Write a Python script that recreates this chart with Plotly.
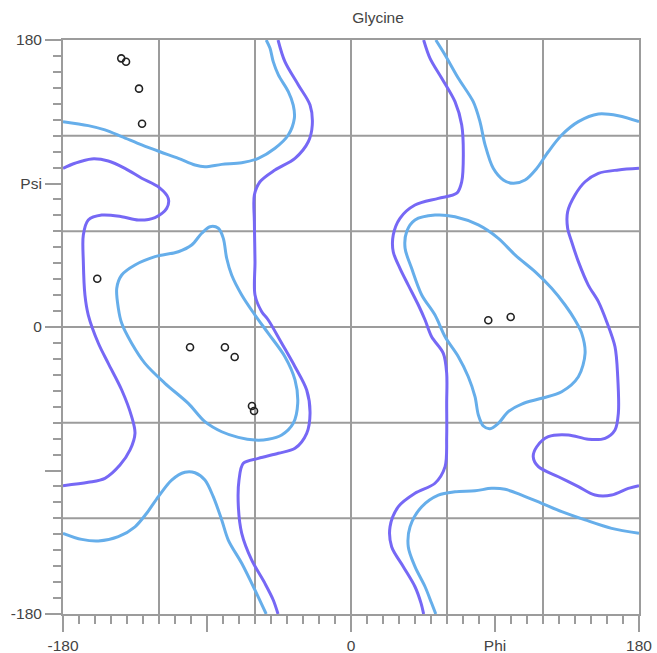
import plotly.graph_objects as go

TITLE = "Glycine"
X_TICK_VALUES = [-180, -90, 0, 90, 180]
X_TICK_LABELS = ["-180", "", "0", "Phi", "180"]
Y_TICK_VALUES = [-180, -90, 0, 90, 180]
Y_TICK_LABELS = ["-180", "", "0", "Psi", "180"]
GRID_VALUES = [-120, -60, 0, 60, 120]

# observed residues
RES_PHI = [-143.6, -140.6, -132.5, -130.6, -158.6, -100.6, -78.8, -72.7, -61.9, -60.6, 85.8, 99.8]
RES_PSI = [168.5, 166.4, 149.5, 127.5, 30.3, -12.7, -12.7, -18.8, -49.5, -52.7, 4.2, 6.3]

# outer (light blue) contour segments
LIGHT_1_PHI = [-180, -164.2, -153.8, -143.3, -130.8, -119.4, -107.9, -97.5, -91.3, -80.8, -68.3, -57.9, -47.5, -39.2, -35.4, -36.1, -39.2, -45.4, -48.6, -50.6, -53]
LIGHT_1_PSI = [128.8, 126.3, 123.6, 119.4, 114.2, 109.9, 105.8, 101.6, 100.5, 102, 103, 105.8, 112.1, 120.4, 130.9, 139.2, 147.6, 158.1, 166.4, 174.8, 180]

LIGHT_2_PHI = [-180, -168.3, -157.9, -145.4, -135, -127.7, -120.4, -112.1, -103.8, -97.5, -91.3, -86.1, -80.8, -76.7, -68.3, -60, -53]
LIGHT_2_PSI = [-129.4, -133.2, -134.2, -131.5, -125.3, -116.8, -106.4, -96, -91.1, -91.4, -96, -106.4, -121, -133.6, -148.2, -165, -180]

LIGHT_3_PHI = [53, 58.8, 67.1, 76.4, 80.6, 83.8, 88.9, 95.2, 101.4, 108.8, 116.1, 123.3, 131.7, 142.1, 154.6, 167.1, 180]
LIGHT_3_PSI = [180, 170.6, 156, 141.3, 128.8, 114.2, 99.5, 92.2, 90.1, 92.2, 99.5, 109.9, 120.4, 128.8, 133.6, 132.5, 128.8]

LIGHT_4_PHI = [180, 162.9, 146.3, 131.7, 119.2, 106.7, 96.3, 87.9, 77.5, 65, 54.6, 44.2, 36.9, 35.8, 40, 46.3, 50.4, 53]
LIGHT_4_PSI = [-129.4, -126.3, -121, -115.8, -110.6, -105.4, -101.8, -101.2, -102.7, -103.3, -105.4, -112.7, -125.3, -137.8, -150.3, -162.9, -173.3, -180]

LIGHT_5_PHI = [-146.4, -143.3, -135, -122.5, -107.9, -99.6, -93.3, -88.1, -82.9, -79.8, -77.7, -74.6, -68.3, -60, -51.7, -41.3, -35, -33.3, -36.1, -43.3, -51.7, -60, -70.4, -80.8, -91.3, -101.7, -116.3, -128.8, -137.1, -143.3, -145.4, -146.4]
LIGHT_5_PSI = [24.3, 32.6, 38.9, 44.1, 47.2, 51.4, 58.8, 62.9, 61.9, 55.6, 43.1, 32.6, 20.1, 7.5, -4, -18.6, -33.2, -47.9, -60.4, -67.7, -70.4, -70.9, -69.2, -65.7, -59.4, -47.9, -35.3, -22.8, -10.2, 2.3, 11.7, 24.3]

LIGHT_6_PHI = [33.8, 34.8, 40, 52.5, 65, 79.6, 92.1, 102.5, 115, 125.4, 133.8, 140, 144.2, 146.3, 142.1, 131.7, 119.2, 106.7, 98.3, 92.1, 86.9, 82.7, 79.6, 77.5, 73.3, 67.1, 58.8, 52.5, 44.2, 37.9, 33.8]
LIGHT_6_PSI = [49.4, 59.8, 67.1, 70.2, 69.2, 64, 55.6, 45.2, 34.7, 24.3, 13.8, 4.4, -4, -16.5, -31.2, -40.6, -44.7, -48.3, -53.1, -60.4, -63.8, -62.1, -55.2, -43.7, -31.2, -18.6, -6.1, 7.5, 20.1, 36.8, 49.4]

# inner (purple) contour segments
PURPLE_1_PHI = [-180, -172.5, -162.1, -151.7, -141.3, -130.8, -119.8, -114.2, -115.2, -122.5, -132.9, -143.3, -155.8, -164.2, -167.3, -167.3, -166.3, -164.2, -157.9, -151.7, -143.3, -137.1, -135, -138.1, -144.4, -153.8, -164.2, -180]
PURPLE_1_PSI = [99.5, 102.7, 105.4, 104.1, 99.5, 93.3, 87.4, 80.7, 74.4, 68.6, 67.1, 69.2, 70.2, 67.1, 57.7, 41, 20.1, 7.5, -10.2, -22.8, -39.5, -56.2, -66.7, -77.1, -86.6, -94.9, -97.4, -99.5]

PURPLE_2_PHI = [-45.6, -41.3, -32.9, -25.6, -24.2, -26.7, -35, -47.5, -56.9, -60.4, -60.4, -60, -60, -55.8, -51.7, -43.3, -35, -27.7, -25.6, -27.7, -35, -45.4, -57.9, -67.3, -70, -70.4, -68.3, -62.1, -53.8, -48.6, -45.6]
PURPLE_2_PSI = [180, 166.4, 151.8, 139.2, 126.7, 116.2, 105.8, 98.5, 91.1, 82.8, 66, 41, 20.1, 9.6, 4.4, -10.2, -24.9, -39.5, -54.1, -66.7, -76.1, -79.2, -82.4, -85.5, -96, -112.7, -129.4, -146.1, -160.8, -171.2, -180]

PURPLE_3_PHI = [45.4, 49.4, 56.7, 65, 69.2, 70.2, 69.2, 66.1, 54.6, 40, 30.6, 26.4, 26.4, 30.6, 35.8, 42.1, 46.3, 50.4, 57.7, 59.8, 59.8, 59.8, 58.8, 52.5, 40, 29.6, 24.4, 25.4, 32.7, 40, 43.8, 45.4]
PURPLE_3_PSI = [180, 168.5, 156, 141.3, 126.7, 107.9, 91.1, 83.9, 80.7, 76.5, 68.2, 57.7, 47.2, 36.8, 26.3, 13.8, 4.4, -6.1, -16.5, -29, -47.9, -68.8, -87.6, -98, -104.3, -112.7, -125.3, -137.8, -150.3, -162.9, -173.3, -180]

PURPLE_4_PHI = [180, 167.1, 154.6, 146.3, 140, 135.4, 135.4, 137.9, 142.1, 148.3, 154.6, 159.8, 165, 166.7, 167.1, 165, 158.8, 148.3, 135.8, 123.3, 116.1, 113.9, 117.1, 129.6, 142.1, 152.5, 162.9, 173.3, 180]
PURPLE_4_PSI = [99.5, 98.5, 96.4, 91.1, 82.8, 72.3, 61.9, 53.5, 41, 26.3, 15.9, 3.3, -12.4, -31.2, -54.1, -64.6, -69.8, -70.4, -67.7, -68.8, -75.1, -81.4, -87.6, -93.9, -100.1, -105.4, -105.4, -101.2, -99.5]

LIGHT_COLOR = "#66aeea"
PURPLE_COLOR = "#7668f5"
AXIS_COLOR = "#9c9c9c"
FONT_FAMILY = "Liberation Sans, Arial, sans-serif"

fig = go.Figure()

light_segments = [
    (LIGHT_1_PHI, LIGHT_1_PSI), (LIGHT_2_PHI, LIGHT_2_PSI), (LIGHT_3_PHI, LIGHT_3_PSI),
    (LIGHT_4_PHI, LIGHT_4_PSI), (LIGHT_5_PHI, LIGHT_5_PSI), (LIGHT_6_PHI, LIGHT_6_PSI),
]
purple_segments = [
    (PURPLE_1_PHI, PURPLE_1_PSI), (PURPLE_2_PHI, PURPLE_2_PSI),
    (PURPLE_3_PHI, PURPLE_3_PSI), (PURPLE_4_PHI, PURPLE_4_PSI),
]

for px, py in light_segments:
    fig.add_trace(go.Scatter(x=px, y=py, mode="lines",
                             line=dict(color=LIGHT_COLOR, width=3, shape="spline", smoothing=0.9),
                             hoverinfo="skip", showlegend=False))
for px, py in purple_segments:
    fig.add_trace(go.Scatter(x=px, y=py, mode="lines",
                             line=dict(color=PURPLE_COLOR, width=3, shape="spline", smoothing=0.9),
                             hoverinfo="skip", showlegend=False))

fig.add_trace(go.Scatter(x=RES_PHI, y=RES_PSI, mode="markers",
                         marker=dict(symbol="circle-open", size=7, color="#222",
                                     line=dict(width=1.6, color="#222")),
                         showlegend=False))

for g in GRID_VALUES:
    fig.add_shape(type="line", xref="x", yref="paper", x0=g, x1=g, y0=0, y1=1,
                  line=dict(color=AXIS_COLOR, width=2), layer="below")
    fig.add_shape(type="line", xref="paper", yref="y", x0=0, x1=1, y0=g, y1=g,
                  line=dict(color=AXIS_COLOR, width=2), layer="below")

axis_common = dict(
    range=[-180, 180], tickmode="array", ticks="outside", ticklen=16, tickwidth=1.5,
    tickcolor=AXIS_COLOR, showline=True, linecolor=AXIS_COLOR, linewidth=2, mirror=True,
    showgrid=False, zeroline=False, fixedrange=True, automargin=False,
    tickfont=dict(family=FONT_FAMILY, size=15.5, color="#444"),
    minor=dict(tickmode="linear", tick0=0, dtick=10, ticks="outside", ticklen=8,
               tickwidth=1.5, tickcolor=AXIS_COLOR, showgrid=False),
)

fig.update_layout(
    width=657, height=653,
    margin=dict(l=63, r=18, t=40, b=39),
    plot_bgcolor="white", paper_bgcolor="white",
    showlegend=False,
    font=dict(family=FONT_FAMILY, size=15, color="#444"),
    title=dict(text=TITLE, x=(378 - 63) / 576, xref="paper", xanchor="center",
               y=1 - 18 / 653, yref="container", yanchor="middle",
               font=dict(family=FONT_FAMILY, size=15.5, color="#444"),
               automargin=False),
    xaxis=dict(tickvals=X_TICK_VALUES, ticktext=X_TICK_LABELS, **axis_common),
    yaxis=dict(tickvals=Y_TICK_VALUES, ticktext=Y_TICK_LABELS, **axis_common),
)

fig.write_html("out.html",
               config={"displayModeBar": False, "responsive": False},
               post_script="document.body.style.margin='0';document.body.style.overflow='hidden';")
